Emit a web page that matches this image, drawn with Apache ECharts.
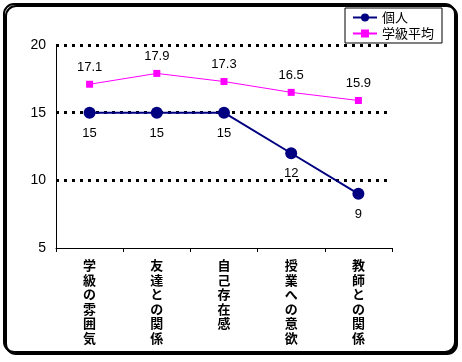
<!DOCTYPE html>
<html><head><meta charset="utf-8">
<script src="https://cdn.jsdelivr.net/npm/echarts@6/dist/echarts.min.js"></script>
<style>html,body{margin:0;padding:0;background:#fff}#c{width:462px;height:362px}</style>
</head><body><div id="c"></div>
<script>
var categories = ['学級の雰囲気','友達との関係','自己存在感','授業への意欲','教師との関係'];
var kojin = [15, 15, 15, 12, 9];
var gakkyuAvg = [17.1, 17.9, 17.3, 16.5, 15.9];
var yTicks = [5, 10, 15, 20];
var JP = '"Noto Sans CJK JP", sans-serif';
var NUM = '"Liberation Sans", Arial, sans-serif';
var chart = echarts.init(document.getElementById('c'), null, {renderer:'canvas'});
chart.setOption({
  animation:false,
  backgroundColor:'#fff',
  graphic:[{
    type:'rect', z:-10, silent:true,
    shape:{x:4,y:4,width:451,height:348,r:10},
    style:{fill:'#fff',stroke:'#000',lineWidth:2,shadowColor:'#000',shadowBlur:0,shadowOffsetX:2,shadowOffsetY:2}
  }],
  grid:{left:56,right:70,top:45,bottom:114},
  legend:{
    orient:'vertical', left:345, top:8, padding:[3,8,3,7], itemGap:3,
    itemWidth:24, itemHeight:10,
    borderColor:'#000', borderWidth:1, backgroundColor:'#fff',
    textStyle:{fontFamily:JP,fontSize:13,color:'#000'},
    data:['個人','学級平均']
  },
  xAxis:{
    type:'category', data:categories, boundaryGap:true,
    axisLine:{lineStyle:{color:'#000',width:1}},
    axisTick:{show:true,length:4,lineStyle:{color:'#000'}},
    axisLabel:{
      interval:0, margin:10, fontFamily:JP, fontWeight:'bold', fontSize:13, color:'#000', lineHeight:14.5,
      verticalAlign:'top',
      formatter:function(v){return v.split('').join('\n');}
    }
  },
  yAxis:{
    type:'value', min:5, max:20, interval:5,
    axisLine:{show:true,lineStyle:{color:'#000',width:1}},
    axisTick:{show:false},
    axisLabel:{fontFamily:NUM,fontSize:14,color:'#000',margin:10,
      formatter:function(v){return yTicks.indexOf(v)>=0?String(v):'';}},
    splitLine:{show:true,showMinLine:false,lineStyle:{color:'#000',width:3,type:[3,5]}}
  },
  series:[
    {
      name:'個人', type:'line', data:kojin,
      color:'#000080',
      lineStyle:{color:'#000080',width:2},
      symbol:'circle', symbolSize:12,
      itemStyle:{color:'#000080'},
      label:{show:true,position:'bottom',distance:8,fontFamily:NUM,fontSize:13,color:'#000'},
      z:3
    },
    {
      name:'学級平均', type:'line', data:gakkyuAvg,
      color:'#ff00ff',
      lineStyle:{color:'#ff00ff',width:1},
      symbol:'rect', symbolSize:7,
      itemStyle:{color:'#ff00ff'},
      label:{show:true,position:'top',distance:7,fontFamily:NUM,fontSize:13,color:'#000',
        formatter:function(p){return p.value.toFixed(1);}},
      z:2
    }
  ]
});
</script></body></html>
